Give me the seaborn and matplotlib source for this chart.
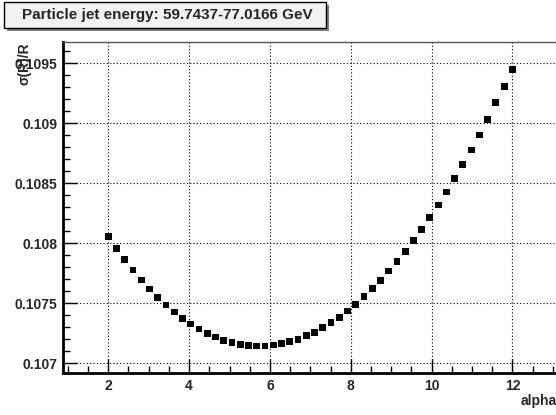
import numpy as np
import pandas as pd
import matplotlib
matplotlib.use("Agg")
import matplotlib.pyplot as plt
import seaborn as sns
from matplotlib.ticker import MultipleLocator, FuncFormatter
from matplotlib.patches import Rectangle

# ---- data ----
alpha = np.linspace(2, 12, 50)
sigma_r = [
    0.108055, 0.107955, 0.107864, 0.107778, 0.107694, 0.107619, 0.107550, 0.107486,
    0.107428, 0.107375, 0.107328, 0.107286, 0.107250, 0.107220, 0.107193, 0.107172,
    0.107155, 0.107147, 0.107144, 0.107144, 0.107153, 0.107162, 0.107180, 0.107200,
    0.107229, 0.107260, 0.107297, 0.107339, 0.107383, 0.107436, 0.107492, 0.107555,
    0.107622, 0.107692, 0.107769, 0.107847, 0.107933, 0.108022, 0.108117, 0.108214,
    0.108319, 0.108428, 0.108542, 0.108658, 0.108778, 0.108903, 0.109033, 0.109170,
    0.109308, 0.109447,
]
title_text = "Particle jet energy: 59.7437-77.0166 GeV"
x_label = "alpha"
y_label = "\u03c3(R)/R"
x_major = [2, 4, 6, 8, 10, 12]

df = pd.DataFrame({"alpha": alpha, "sigma": sigma_r})

sns.set_theme(style="white")
plt.rcParams["font.family"] = ["Liberation Sans", "DejaVu Sans"]
plt.rcParams["font.weight"] = "bold"

W, H = 556, 415
fig = plt.figure(figsize=(W / 100, H / 100), dpi=100)
fig.patch.set_facecolor("white")

def fx(px):
    return px / W

def fy(py):
    return 1 - py / H

ax_left, ax_top, ax_bot = 63, 41.7, 373.3
ax = fig.add_axes([fx(ax_left), fy(ax_bot), 1 - fx(ax_left), (ax_bot - ax_top) / H])
ax.set_facecolor("white")

sns.scatterplot(data=df, x="alpha", y="sigma", marker="s", s=24, color="black",
                edgecolor="none", ax=ax, legend=False, zorder=3, clip_on=False)

ax.set_xlim(0.879, 13.08)
ax.set_ylim(0.1069167, 0.10968)

ax.set_xticks(x_major)
ax.xaxis.set_minor_locator(MultipleLocator(0.5))
ax.yaxis.set_major_locator(MultipleLocator(0.0005))
ax.yaxis.set_minor_locator(MultipleLocator(0.0001))
ax.yaxis.set_major_formatter(FuncFormatter(lambda v, p: ("%.4f" % v).rstrip("0").rstrip(".")))
ax.xaxis.set_major_formatter(FuncFormatter(lambda v, p: "%g" % v))

ax.tick_params(which="major", direction="in", length=10, width=1, color="black",
               labelsize=10, pad=4, bottom=True, left=True, top=False, right=False)
ax.tick_params(which="minor", direction="in", length=5, width=1, color="black",
               bottom=True, left=True, top=False, right=False)
for lab in ax.get_xticklabels() + ax.get_yticklabels():
    lab.set_fontweight("bold")

ax.grid(True, which="major", color="black", linestyle=(0, (1, 2)), linewidth=0.8)

ax.set_xlabel("")
ax.set_ylabel("")
for side in ["left", "bottom"]:
    ax.spines[side].set_color("black")
    ax.spines[side].set_linewidth(2)
ax.spines["top"].set_color("#555555")
ax.spines["top"].set_linewidth(1)
ax.spines["right"].set_visible(False)

# axis titles
fig.text(fx(557), fy(401), x_label, ha="right", va="center", fontsize=10, fontweight="bold")
fig.text(fx(24), fy(42), y_label, ha="center", va="top", rotation=90, fontsize=10,
         fontweight="bold")

# title box with shadow
shadow = Rectangle((fx(7), fy(31)), fx(322), 26 / H, transform=fig.transFigure,
                   facecolor="#7f7f7f", edgecolor="none", zorder=1)
box = Rectangle((fx(4), fy(28)), fx(322), 26 / H, transform=fig.transFigure,
                facecolor="#f2f2f2", edgecolor="black", linewidth=1, zorder=2)
fig.patches.extend([shadow, box])
fig.text(fx(22), fy(14.5), title_text, ha="left", va="center", fontsize=11,
         fontweight="bold", zorder=3)

fig.savefig("out.png", dpi=100)
